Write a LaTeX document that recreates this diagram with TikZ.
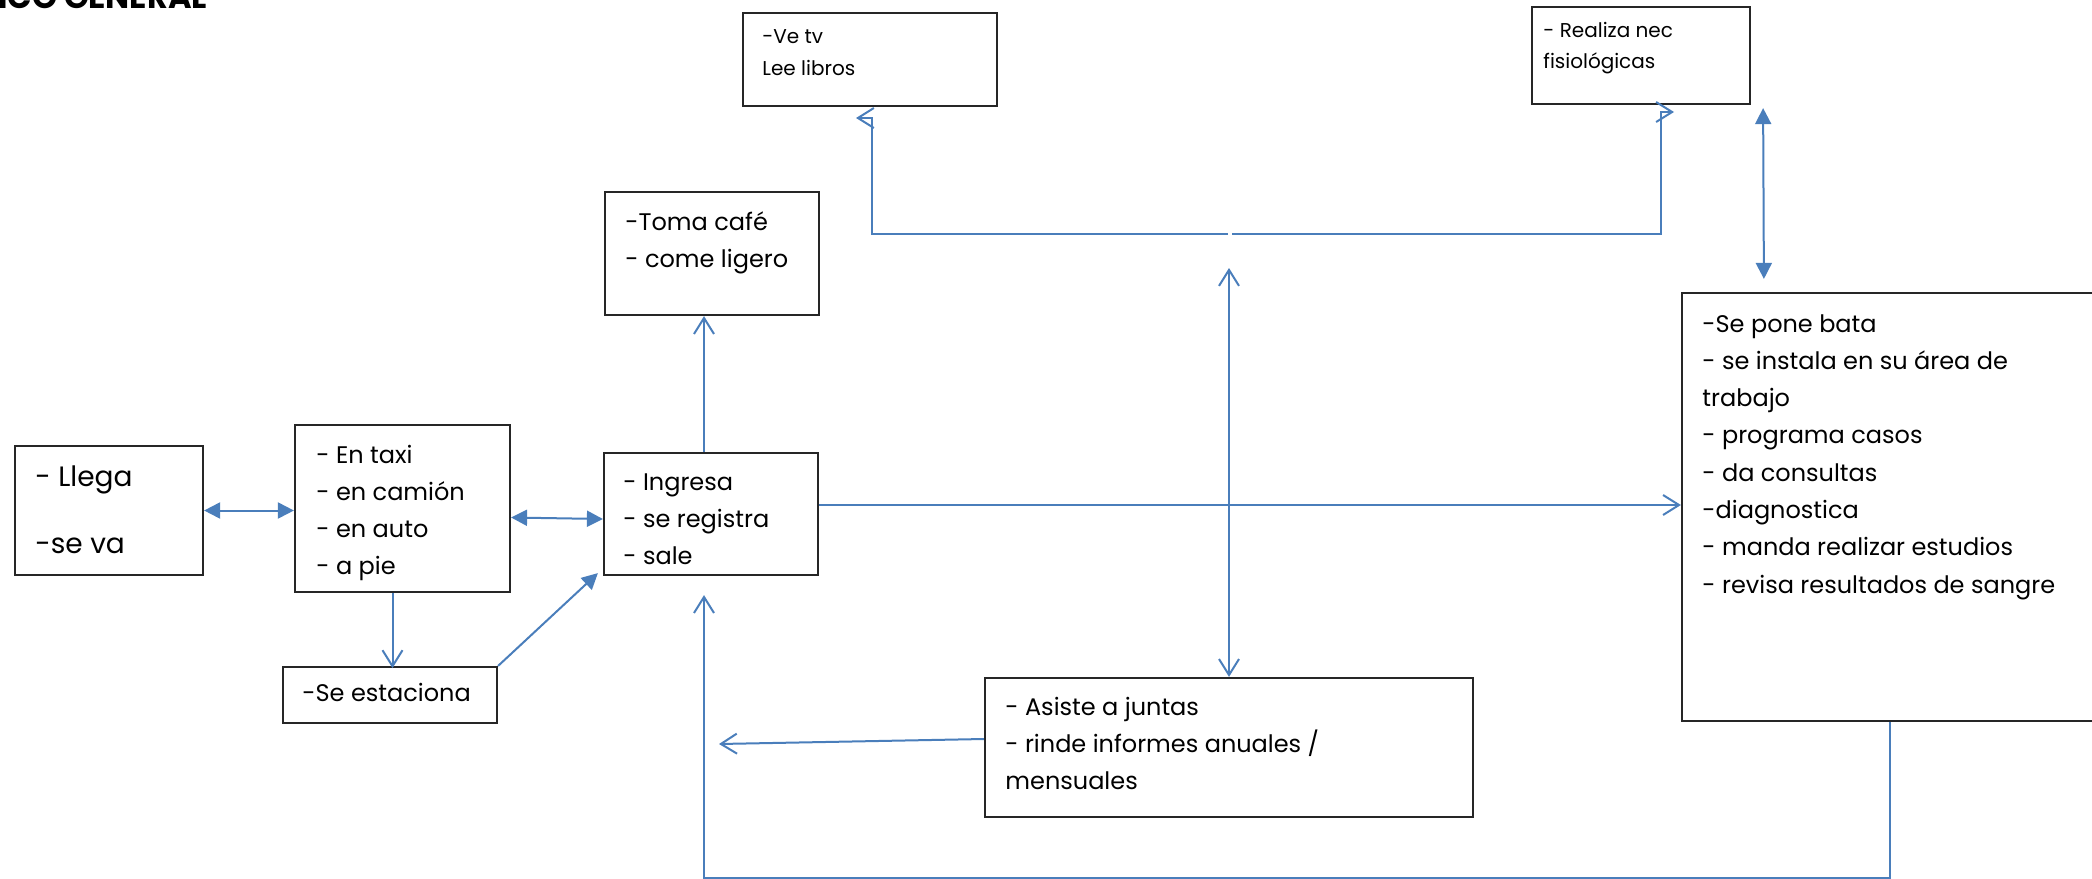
\documentclass[tikz,border=0pt]{standalone}
\usepackage{fontspec}
\setmainfont{Poppins}
\usetikzlibrary{arrows.meta,calc,fit}
\definecolor{linkblue}{HTML}{4A7EBB}
% left-aligned stack of lines whose baseline is the first line
\newcommand\stack[1]{\begin{tabular}[t]{@{}l@{}}#1\end{tabular}}

\begin{document}
\begin{tikzpicture}[x=0.5pt,y=-0.5pt,
  box/.style={draw=black!85,line width=1.1pt,inner sep=0pt,fit={#1}},
  txt/.style={anchor=base west,inner sep=0pt,font=\fontsize{12}{18.65}\selectfont},
  txts/.style={txt,font=\fontsize{10}{16}\selectfont},
  txtl/.style={txt,font=\fontsize{14}{33.5}\selectfont},
  conn/.style={draw=linkblue,line width=1pt},
  openarr/.style={conn,-{Straight Barb[length=8pt,width=10pt]}},
  openboth/.style={conn,{Straight Barb[length=8pt,width=10pt]}-{Straight Barb[length=8pt,width=10pt]}},
  fillarr/.style={conn,-{Triangle[length=8pt,width=8pt]}},
  fillboth/.style={conn,{Triangle[length=8pt,width=8pt]}-{Triangle[length=8pt,width=8pt]}},
]
\useasboundingbox (0,0) rectangle (2092,878);

% heading
\node[anchor=base west,inner sep=0pt,font=\fontsize{16}{18}\selectfont\bfseries] (title) at (-2,9) {ICO GENERAL};

% boxes
\node[box={(743,13) (997,106)}] (tv) {};
\node[box={(1532,7) (1750,104)}] (realiza) {};
\node[box={(605,192) (819,315)}] (toma) {};
\node[box={(15,446) (203,575)}] (llega) {};
\node[box={(295,425) (510,592)}] (taxi) {};
\node[box={(604,453) (818,575)}] (ingresa) {};
\node[box={(283,667) (497,723)}] (estaciona) {};
\node[box={(985,678) (1473,817)}] (asiste) {};
\node[box={(1682,293) (2120,721)}] (bata) {};

% box texts
\node[txts] (tvT) at (762,43) {\stack{-Ve tv\\Lee libros}};
\node[txts] (realizaT) at (1543,37) {\stack{- Realiza nec\\fisiológicas}};
\node[txt] (tomaT) at (625,230) {\stack{-Toma café\\- come ligero}};
\node[txtl] (llegaT) at (35,486) {\stack{- Llega\\-se va}};
\node[txt] (taxiT) at (316,463) {\stack{- En taxi\\- en camión\\- en auto\\- a pie}};
\node[txt] (ingresaT) at (623,490) {\stack{- Ingresa\\- se registra\\- sale}};
\node[txt] (estacionaT) at (302,701) {-Se estaciona};
\node[txt] (asisteT) at (1005,715) {\stack{- Asiste a juntas\\- rinde informes anuales /\\mensuales}};
\node[txt] (bataT) at (1702,332) {\stack{-Se pone bata\\- se instala en su área de\\trabajo\\- programa casos\\- da consultas\\-diagnostica\\- manda realizar estudios\\- revisa resultados de sangre}};

% free ends of connectors
\coordinate (hub) at (1229,268);
\coordinate (gap) at (1230,234);
\coordinate (tvtip) at (856,118);
\coordinate (reatip) at (1674,112);
\coordinate (repend) at (719,744);
\coordinate (iout) at ($(ingresa.east)+(0,-9)$);
\coordinate (ret) at ($(ingresa.south)+(-7,19)$);

% connectors
\draw[fillboth] (llega.east) -- (llega.east -| taxi.west);
\draw[fillboth] ($(taxi.east)+(0,9)$) -- ($(ingresa.west)+(0,5)$);
\draw[openarr] ($(taxi.south)+(-10,0)$) -- ($(taxi.south)+(-10,75)$);
\draw[fillarr] (estaciona.north east) -- ($(ingresa.south west)+(-5,-3)$);
\draw[openarr] ($(ingresa.north)+(-7,0)$) -- ($(toma.south)+(-8,0)$);
\draw[openarr] (iout) -- (iout -| bata.west);
\draw[openboth] (hub) -- (asiste.north);
\draw[openarr] ($(gap)+(-2,0)$) -| ($(tvtip)+(16,0)$) -- (tvtip);
\draw[openarr] ($(gap)+(2,0)$) -| ($(reatip)+(-13,0)$) -- (reatip);
\draw[fillboth] ($(realiza.south east)+(12,3)$) -- ($(bata.north west)+(83,-13)$);
\draw[openarr] ($(asiste.west)+(0,-8.5)$) -- (repend);
\draw[openarr] ($(bata.south west)+(209,0)$) -- ++(0,156) -| (ret);
\end{tikzpicture}
\end{document}
